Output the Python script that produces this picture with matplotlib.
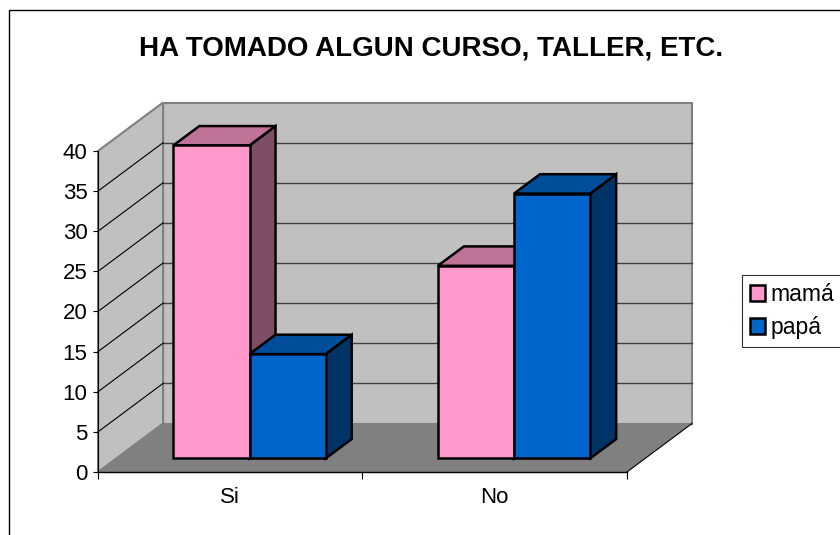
import matplotlib.pyplot as plt
from matplotlib.patches import Polygon, Patch, Rectangle

plt.rcParams['font.family'] = ['Liberation Sans', 'DejaVu Sans']

# data
categorias = ['Si', 'No']
mama = [39, 24]
papa = [13, 33]
series = ['mamá', 'papá']
yticks = [0, 5, 10, 15, 20, 25, 30, 35, 40]

# colores (frente, arriba, lado)
col_mama = ('#FF99CC', '#BF7399', '#804D66')
col_papa = ('#0066CC', '#004D99', '#003366')

W, H = 840, 535
fig = plt.figure(figsize=(W / 100, H / 100), dpi=100)

# pseudo 3D: desplazamiento de profundidad en unidades de datos
DX = 0.246
DY = 6.04
YMAX = 40
NC = len(categorias)

ax = fig.add_axes([98 / W, (H - 472) / H, (692 - 98) / W, (472 - 102.5) / H])
ax.set_xlim(0, NC + DX)
ax.set_ylim(0, YMAX + DY)
ax.patch.set_visible(False)
ax.spines['top'].set_visible(False)
ax.spines['right'].set_visible(False)
ax.spines['left'].set_bounds(0, YMAX)
ax.spines['bottom'].set_bounds(0, NC)
ax.spines['left'].set_linewidth(0.8)
ax.spines['bottom'].set_linewidth(1.0)
ax.spines['left'].set_zorder(2)

# paredes y piso
wall_kw = dict(facecolor='#C0C0C0', edgecolor='#808080', linewidth=1.5, zorder=0.5, clip_on=False)
ax.add_patch(Polygon([(DX, DY), (NC + DX, DY), (NC + DX, DY + YMAX), (DX, DY + YMAX)], **wall_kw))
ax.add_patch(Polygon([(0, 0), (DX, DY), (DX, DY + YMAX), (0, YMAX)], **wall_kw))
ax.add_patch(Polygon([(0, 0), (NC, 0), (NC + DX, DY), (DX, DY)],
                     facecolor='#808080', edgecolor='none', zorder=0.6, clip_on=False))
ax.plot([NC, NC + DX], [0, DY], color='black', lw=0.8, zorder=0.7, clip_on=False)

# lineas de division
for v in yticks[1:-1]:
    ax.plot([DX, NC + DX], [DY + v, DY + v], color='#404040', lw=1.0, zorder=0.8, clip_on=False)
    ax.plot([0, DX], [v, DY + v], color='black', lw=0.8, zorder=0.8, clip_on=False)

# barras
z0, depth, w = 0.28, 0.40, 0.288
base = z0 * DY
ddx, ddy = depth * DX, depth * DY
zo = 3
for i in range(NC):
    center = i + 0.5 + z0 * DX + 0.004
    for vals, cols, x0 in [(mama, col_mama, center - w), (papa, col_papa, center)]:
        v = vals[i]
        x1 = x0 + w
        top = base + v
        ax.add_patch(Polygon([(x1, base), (x1, top), (x1 + ddx, top + ddy), (x1 + ddx, base + ddy)],
                             facecolor=cols[2], edgecolor='black', linewidth=1.8,
                             joinstyle='miter', zorder=zo, clip_on=False))
        ax.add_patch(Polygon([(x0, top), (x1, top), (x1 + ddx, top + ddy), (x0 + ddx, top + ddy)],
                             facecolor=cols[1], edgecolor='black', linewidth=1.8,
                             joinstyle='miter', zorder=zo + 0.1, clip_on=False))
        ax.bar(x0, v, width=w, bottom=base, align='edge', color=cols[0], edgecolor='black',
               linewidth=1.8, zorder=zo + 0.2)
        zo += 1

# ejes
ax.set_yticks(yticks)
ax.set_yticklabels([str(t) for t in yticks], fontsize=16)
ax.tick_params(axis='y', direction='out', length=3.6, width=0.8, pad=4)
ax.set_xticks(range(NC + 1))
ax.set_xticklabels([])
ax.tick_params(axis='x', which='major', direction='out', length=5, width=0.8)
ax.set_xticks([i + 0.5 for i in range(NC)], labels=categorias, minor=True)
ax.tick_params(axis='x', which='minor', length=0, labelsize=16, pad=11)

fig.text(431 / W, 1 - 55 / H, 'HA TOMADO ALGUN CURSO, TALLER, ETC.', ha='center', va='baseline',
         fontsize=20, fontweight='bold')

handles = [Patch(facecolor=col_mama[0], edgecolor='black', linewidth=1.8),
           Patch(facecolor=col_papa[0], edgecolor='black', linewidth=1.8)]
leg = fig.legend(handles, series, loc='upper left', bbox_to_anchor=(742 / W, 1 - 275 / H),
                 borderaxespad=0, fontsize=16.5, frameon=True, fancybox=False, shadow=False,
                 handlelength=0.66, handleheight=0.66, handletextpad=0.22, labelspacing=0.42,
                 borderpad=0.36)
leg.get_frame().set_edgecolor('black')
leg.get_frame().set_linewidth(0.8)

# borde del area del grafico
fig.patches.append(Rectangle((9 / W, -0.1), 1.2, (H - 10) / H + 0.1, transform=fig.transFigure,
                             fill=False, edgecolor='black', linewidth=1.0))

fig.savefig('out.png', dpi=100)
